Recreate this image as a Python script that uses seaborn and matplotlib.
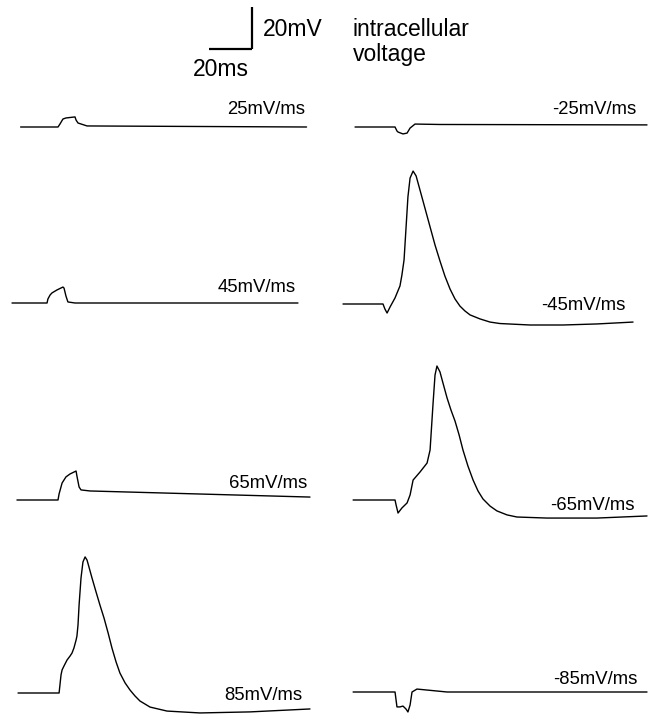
import numpy as np
import pandas as pd
import matplotlib
matplotlib.use("Agg")
import matplotlib.pyplot as plt
import seaborn as sns

sns.set_theme(style="white")
plt.rcParams['font.family'] = ['Liberation Sans', 'DejaVu Sans']
plt.rcParams['text.color'] = 'black'

# ---- data: time (ms) and membrane voltage deviation (mV) per stimulus slope ----
slopes = ["25mV/ms", "45mV/ms", "65mV/ms", "85mV/ms",
          "-25mV/ms", "-45mV/ms", "-65mV/ms", "-85mV/ms"]

t_p25 = [4, 21.4, 22.3, 23.7, 25.1, 29.3, 29.8, 30.7, 34.9, 137]
v_p25 = [0, 0, 1.4, 3.8, 4.3, 4.8, 3.3, 1.9, 0.5, 0]

t_p45 = [0, 16.3, 16.7, 17.7, 18.6, 20.9, 23.7, 24.2, 25.1, 26.0, 29.3, 133]
v_p45 = [0, 0, 1.9, 3.8, 4.8, 6.2, 7.6, 7.1, 3.3, 0.5, 0, 0]

t_p65 = [2.3, 21.4, 21.9, 23.3, 25.1, 27.0, 29.8, 30.2, 31.2, 32.1, 36.3, 138.6]
v_p65 = [0, 0, 2.9, 8.1, 11.0, 12.4, 13.8, 11.4, 6.2, 4.8, 4.3, 1.4]

t_p85 = [2.8, 21.9, 22.3, 22.8, 23.3, 24.2, 25.6, 27.0, 27.9, 28.8, 29.8, 30.2,
         30.7, 31.2, 32.1, 33.0, 34.0, 34.9, 35.8, 37.2, 39.1, 40.9, 42.8, 44.7,
         46.5, 48.4, 50.2, 52.6, 54.9, 57.2, 59.5, 64.2, 72.1, 87.4, 110.7, 138.6]
v_p85 = [0, 0, 3.8, 8.6, 11.0, 12.9, 15.7, 17.6, 19.0, 21.4, 25.2, 27.1,
         32.4, 41.9, 54.8, 62.4, 64.8, 63.3, 60.0, 54.8, 48.1, 41.9, 35.7, 28.6,
         21.4, 14.8, 9.5, 4.8, 1.4, -1.4, -3.8, -6.7, -8.6, -9.5, -9.0, -7.6]

t_m25 = [5.6, 24.2, 25.1, 25.6, 27.9, 29.8, 31.2, 33.5, 45.1, 141.4]
v_m25 = [0, 0, -1.9, -2.4, -3.3, -2.9, -0.5, 1.4, 1.2, 1.0]

t_m45 = [0, 18.6, 19.5, 20.5, 21.9, 24.2, 26.5, 27.4, 28.4, 30.2, 31.2, 32.6,
         34.0, 35.8, 38.1, 40.5, 42.8, 45.1, 47.4, 49.8, 52.1, 54.4, 56.7, 59.1,
         63.7, 68.4, 73.0, 87.0, 102.3, 118.1, 134.9]
v_m45 = [0, 0, -2.4, -4.3, -1.4, 2.9, 8.6, 13.8, 21.0, 51.0, 60.0, 63.3,
         61.0, 54.3, 45.7, 36.7, 28.1, 20.5, 13.3, 7.1, 2.4, -1.0, -3.3, -5.2,
         -7.1, -8.6, -9.3, -10.0, -10.0, -9.5, -8.6]

t_m65 = [4.7, 24.2, 24.7, 25.6, 27.4, 29.8, 31.2, 32.6, 35.8, 39.1, 40.5, 41.9,
         42.8, 43.7, 45.1, 46.5, 48.4, 50.2, 52.1, 54.0, 55.8, 58.1, 60.5, 62.8,
         65.1, 68.4, 71.6, 76.3, 80.9, 94.9, 118.1, 141.4]
v_m65 = [0, 0, -2.4, -6.2, -3.8, -1.4, 2.4, 9.5, 13.3, 17.6, 23.8, 46.2,
         59.5, 63.8, 61.0, 55.7, 48.6, 42.9, 37.6, 31.0, 23.8, 16.2, 9.5, 4.3,
         0.5, -2.9, -5.2, -7.1, -8.1, -8.6, -8.6, -7.6]

t_m85 = [4.7, 24.2, 25.1, 26.5, 27.9, 29.3, 30.2, 31.2, 32.1, 34.4, 48.4, 141.4]
v_m85 = [0, 0, -7.1, -7.1, -6.7, -8.1, -9.5, -6.2, 0, 1.4, 0, 0]

times = [t_p25, t_p45, t_p65, t_p85, t_m25, t_m45, t_m65, t_m85]
volts = [v_p25, v_p45, v_p65, v_p85, v_m25, v_m45, v_m65, v_m85]

# ---- layout (pixel geometry of the panel) ----
W, H = 656, 714
PX_PER_MS = 2.15
PX_PER_MV = 2.1
col_left_px = [12, 12, 12, 12, 343, 343, 343, 343]
base_px = [127, 303, 500, 693, 127, 304, 500, 692]
label_right_px = [305, 296, 307, 302, 636, 625, 635, 637]
label_y_px = [109, 287, 483, 695, 110, 305, 505, 680]

frames = []
for name, t, v, cx, by in zip(slopes, times, volts, col_left_px, base_px):
    t = np.asarray(t, float)
    v = np.asarray(v, float)
    frames.append(pd.DataFrame({
        "trace": name,
        "x": t + cx / PX_PER_MS,
        "y": v - by / PX_PER_MV,
    }))
df = pd.concat(frames, ignore_index=True)

fig = plt.figure(figsize=(W / 100, H / 100), dpi=100)
ax = fig.add_axes([0, 0, 1, 1])
sns.lineplot(data=df, x="x", y="y", units="trace", estimator=None,
             color="black", linewidth=1.0, sort=False, ax=ax, legend=False)
ax.set_xlim(0, W / PX_PER_MS)
ax.set_ylim(-H / PX_PER_MV, 0)
ax.axis("off")

# scale bar: 20 ms x 20 mV
corner_x = 252 / PX_PER_MS
corner_y = -49 / PX_PER_MV
ax.plot([corner_x - 20, corner_x], [corner_y, corner_y], color="black", lw=1.6,
        solid_capstyle="butt")
ax.plot([corner_x, corner_x], [corner_y, corner_y + 20], color="black", lw=1.6,
        solid_capstyle="butt")

def fx(px):
    return px / W

def fy(py):
    return 1 - py / H

fig.text(fx(263), fy(29), "20mV", fontsize=16.5, ha="left", va="center", color="black")
fig.text(fx(193), fy(70), "20ms", fontsize=16.5, ha="left", va="center", color="black")
fig.text(fx(353), fy(29), "intracellular", fontsize=16.5, ha="left", va="center", color="black")
fig.text(fx(353), fy(55), "voltage", fontsize=16.5, ha="left", va="center", color="black")

for name, rx, ly in zip(slopes, label_right_px, label_y_px):
    fig.text(fx(rx), fy(ly), name, fontsize=13.3, ha="right", va="center", color="black")

fig.savefig("out.png", dpi=100)
